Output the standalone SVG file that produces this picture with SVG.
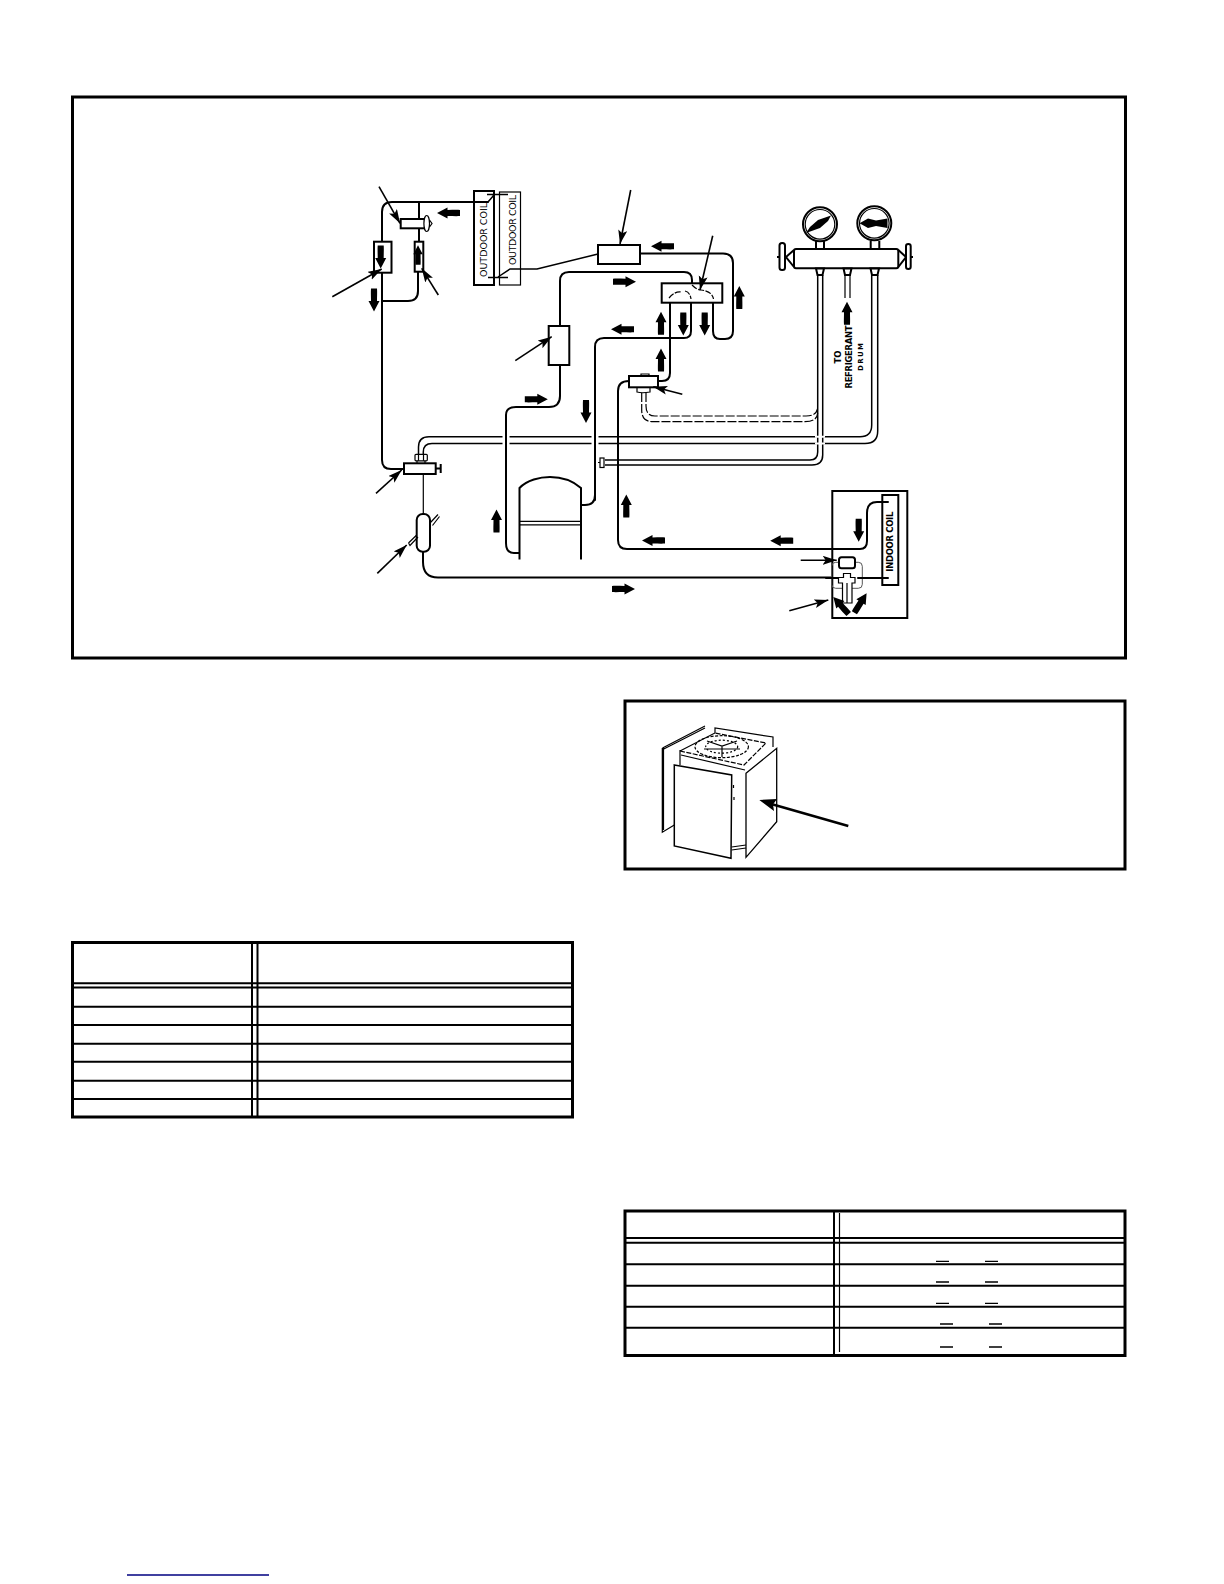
<svg xmlns="http://www.w3.org/2000/svg" xmlns:xlink="http://www.w3.org/1999/xlink" width="1224" height="1584" viewBox="0 0 1224 1584">
<style>
.frame{fill:none;stroke:#000;stroke-width:3}
.b{fill:none;stroke:#000;stroke-width:2}
.p{fill:none;stroke:#000;stroke-width:2;stroke-linecap:round}
.t{fill:none;stroke:#000;stroke-width:1.2}
.tb{fill:none;stroke:#000;stroke-width:1.5}
.w{fill:#fff;stroke:#000;stroke-width:2}
.wt{fill:#fff;stroke:#000;stroke-width:1.2}
.d{fill:none;stroke:#000;stroke-width:1.2;stroke-dasharray:9 2}
.gap{stroke:#fff;stroke-width:7;fill:none}
.l{stroke:#000;stroke-width:1.6;fill:none;marker-end:url(#head)}
.tl{fill:none;stroke:#000;stroke-width:2}
.rl{fill:none;stroke:#000;stroke-width:1.3}
.tx{font-family:"DejaVu Sans","Liberation Sans",sans-serif;fill:#000;text-anchor:middle}
</style>
<defs>
<marker id="head" markerUnits="userSpaceOnUse" markerWidth="16" markerHeight="10" refX="14" refY="4.5" orient="auto"><path d="M0,0 L14,4.5 L0,9 L3,4.5Z" fill="#000"/></marker>
<path id="arr" d="M-11.5,-3 C-8,-3.3 -4,-3 1,-3 L1,-5.5 L11.5,0 L1,5.5 L1,3 C-4,3 -8,3.3 -11.5,3Z" fill="#000"/>
</defs>
<g id="frames">
<rect class="frame" x="72.5" y="97" width="1053" height="561"/>
<rect class="frame" x="625" y="701" width="500" height="168"/>
</g>
<g id="connectors">
<path class="p" d="M488,202 H392 Q382,202 382,212 V242"/>
<path class="p" d="M419,202 V219 M419,228 V242 M418,272 V291 Q418,301 408,301 H382"/>
<path class="p" d="M382,273 V460 Q382,469 391,469 H404"/>
<path class="t" d="M423.3,474 V514"/>
<path class="p" d="M423,552 V562 Q423,577.5 438,577.5 H832"/>
<path class="p" d="M860,578 H888"/>
<path class="tb" d="M498,277 L510,269 H537 L598,254"/>
<path class="p" d="M640,253.5 H723 Q733,253.5 733,263 V331 Q733,339 725,339 H720 Q713,339 713,331 V303"/>
<path class="p" d="M560,326 V281 Q560,272 569,272 H684 Q692,272 692,280 V284"/>
<path class="p" d="M560,365 V396 Q560,407 549,407 H516 Q506,407 506,415 V543 Q506,553 514,553 H519"/>
<path class="p" d="M595,500 V347 Q595,338 604,338 H684 Q691,338 691,331 V303"/>
<path class="p" d="M595,495 Q595,505 585,505 H581"/>
<path class="p" d="M670,303 V373 Q670,381 662,381 H658"/>
<path class="p" d="M629,381 Q618,381 618,391 V540 Q618,549 627,549 H860 Q867,549 867,541 V513 Q867,502 877,502 H888"/>
<path class="tb" d="M418.5,454 V447 Q418.5,436.7 429,436.7 H860 Q871.7,436.7 871.7,425 V275"/>
<path class="tb" d="M423.3,454 V452 Q423.3,443.5 432,443.5 H865 Q877.7,443.5 877.7,431 V275"/>
<path class="gap" d="M506,431 V449 M595,431 V449 M820,431 V449"/>
<path class="p" d="M506,425 V455 M595,425 V455"/>
<path class="tb" d="M605,460 H810 Q817.7,460 817.7,452 V275 M605,465 H812 Q822.7,465 822.7,455 V275"/>
<path class="gap" d="M815,436.7 H825 M815,443.5 H825" style="stroke-width:2"/>
<path class="d" d="M641.7,393 V410 Q641.7,421.7 653,421.7 H805 Q817,421.7 817.7,413"/>
<path class="d" d="M646,393 V406 Q646,416 655,416 H806 Q816,416 817.5,409"/>
</g>
<g id="outdoor-coil-1"><rect class="b" x="474" y="191" width="20" height="94"/><text class="tx" font-size="9.5" transform="translate(486.8,240) rotate(-90)" textLength="74">OUTDOOR COIL</text></g>
<g id="outdoor-coil-2"><rect class="t" x="499.5" y="192" width="21" height="93"/><text class="tx" font-size="9.5" transform="translate(516.2,230) rotate(-90)" textLength="70">OUTDOOR COIL</text></g>
<g id="coil-stubs"><path class="tb" d="M488,202 L494,195 M487,194.5 H508 M488,277.5 H508"/></g>
<g id="reversing-rect"><rect class="w" x="598" y="245" width="42" height="19"/></g>
<g id="left-filter"><rect class="w" x="374" y="241.7" width="17.5" height="31"/></g>
<g id="side-filter"><rect class="w" x="414.7" y="241.7" width="8.6" height="30"/></g>
<g id="top-valve"><rect class="w" x="400.7" y="219" width="25" height="9.3"/><ellipse class="wt" cx="426.7" cy="223.5" rx="2.8" ry="8"/><path class="t" d="M429.5,220 L432,223.5 L429.5,227"/></g>
<g id="muffler"><rect class="w" x="548.7" y="326" width="20.6" height="39"/></g>
<g id="four-way-valve"><rect class="w" x="661.7" y="283.3" width="60.6" height="19.4"/><path class="t" d="M669,298 Q675,291 681,292 M685,291 Q690,292 691,299 M692,285 Q697,290 701,290 Q712,291 713.5,299" stroke-dasharray="6 1.5"/></g>
<g id="pressure-valve"><rect class="w" x="629" y="376" width="29" height="11.3"/><path class="t" d="M641,376 V374 H649 V376 M637,387.3 V392 Q642,393.5 650,392 V387.3"/></g>
<g id="service-valve"><rect class="w" x="404" y="463.3" width="31.7" height="10.7"/><path class="b" d="M435.7,468.5 H440.7 M440.7,464 V473"/><rect class="wt" x="415" y="454.3" width="12.3" height="6.5" rx="1"/><path class="t" d="M418.5,454.3 V460.8 M423.5,454.3 V460.8 M417,460.8 V463.3 M425,460.8 V463.3"/></g>
<g id="small-valve"><rect class="wt" x="600" y="458" width="4" height="9.5"/><path class="t" d="M598,462.5 H600"/></g>
<g id="accumulator"><path class="t" d="M430,523 L438,514.5 M432.5,525.5 L439.5,516.5 M416.7,535 L408.5,543 M418,537 L410,545.5 L408.5,543"/><rect class="b" x="416.7" y="514" width="13.3" height="37.7" rx="6"/></g>
<g id="compressor"><path class="b" d="M519.5,559.5 V488 C527,480 540,477 550,477 C562,477 573,481 581,488 V559.5"/><path class="t" d="M519.5,521.3 H581 M519.5,524.8 H581"/></g>
<g id="manifold">
<circle class="b" cx="820" cy="224.3" r="17"/><circle class="t" cx="820" cy="224.3" r="14.8"/>
<path d="M806,233 L810,227 L818,220 L831,215.5 L828,221 L820,228 Z" fill="#000"/>
<circle class="b" cx="874.3" cy="223.3" r="17"/><circle class="t" cx="874.3" cy="223.3" r="14.8"/>
<path d="M859.5,223.3 L868,218.5 L876,220.5 L887.5,218.5 V228 L876,226 L868,228 Z" fill="#000"/>
<path class="b" d="M816,241 V249 M824,241 V249 M870.7,241 V249 M879.3,241 V249"/>
<rect class="b" x="794" y="249" width="104.3" height="19.3" rx="2"/>
<path class="b" d="M794,250 L786,257 L794,267 M898.3,250 L906,257 L898.3,267 M777,257 H780 M911,257 H913"/>
<rect class="w" x="779.5" y="243" width="5.5" height="27" rx="2.5"/><rect class="w" x="906" y="244" width="4.7" height="25" rx="2.3"/>
<path class="w" d="M816,268.5 H824 L822.5,275 H817.5Z M843.5,268.5 H851.5 L850,275 H845Z M870.5,268.5 H879 L877.5,275 H872Z"/>
<path class="t" d="M845,275 V298 M850,275 V298"/>
<text class="tx" font-size="8.5" font-weight="bold" transform="translate(840.6,357) rotate(-90)">TO</text>
<text class="tx" font-size="8.5" font-weight="bold" transform="translate(852,357) rotate(-90)" textLength="63">REFRIGERANT</text>
<text class="tx" font-size="7" font-weight="bold" transform="translate(863,357) rotate(-90)" textLength="28">DRUM</text>
</g>
<g id="indoor-unit">
<rect class="b" x="832.3" y="491" width="75" height="127"/>
<rect class="b" x="882.3" y="495" width="16" height="90"/>
<text class="tx" font-size="8.5" font-weight="bold" transform="translate(893.4,541.7) rotate(-90)" textLength="60">INDOOR COIL</text>
<rect x="831.7" y="562.3" width="30.6" height="26" rx="4" fill="none" stroke="#555" stroke-width="1"/>
<path class="p" d="M826,578 H840 M858,578 H868"/>
<rect class="b" x="839" y="557.3" width="16" height="11" rx="2.5" style="fill:#fff"/>
<path class="wt" d="M843.5,573.5 H850.5 V577.5 H855 V583 H852 V603 H842.5 V583 H838.5 V577.5 H843.5Z M847,583 V603"/>
</g>
<g id="leaders">
<path class="l" d="M379,186.7 L400,223.3"/>
<path class="l" d="M332.3,296.7 L381.7,269"/>
<path class="l" d="M438.3,295 L421.7,268.3"/>
<path class="l" d="M515.3,360.7 L551.7,336.7"/>
<path class="l" d="M630.7,190 L620,244"/>
<path class="l" d="M712.7,235.7 L700,290"/>
<path class="l" d="M682.3,394.3 L653.3,386.7"/>
<path class="l" d="M376,493.3 L401.7,470"/>
<path class="l" d="M377.3,573.3 L406.7,545"/>
<path class="l" d="M800.7,560.3 H836.7"/>
<path class="l" d="M789.3,610.7 L828.3,600"/>
</g>
<g id="flow-arrows">
<use xlink:href="#arr" href="#arr" transform="translate(380.7,257) rotate(90)"/>
<use xlink:href="#arr" href="#arr" transform="translate(374,300) rotate(90)"/>
<use xlink:href="#arr" href="#arr" transform="translate(418,255) rotate(-90) scale(.85)"/>
<use xlink:href="#arr" href="#arr" transform="translate(448.5,213) rotate(180)"/>
<use xlink:href="#arr" href="#arr" transform="translate(662.5,246.3) rotate(180)"/>
<use xlink:href="#arr" href="#arr" transform="translate(624.5,281.7)"/>
<use xlink:href="#arr" href="#arr" transform="translate(739.3,297.5) rotate(-90)"/>
<use xlink:href="#arr" href="#arr" transform="translate(622.5,329.3) rotate(180)"/>
<use xlink:href="#arr" href="#arr" transform="translate(661,323.3) rotate(-90)"/>
<use xlink:href="#arr" href="#arr" transform="translate(661,360) rotate(-90)"/>
<use xlink:href="#arr" href="#arr" transform="translate(683.3,324) rotate(90)"/>
<use xlink:href="#arr" href="#arr" transform="translate(704.7,324) rotate(90)"/>
<use xlink:href="#arr" href="#arr" transform="translate(536.3,399.3)"/>
<use xlink:href="#arr" href="#arr" transform="translate(586,411.5) rotate(90)"/>
<use xlink:href="#arr" href="#arr" transform="translate(847,313.3) rotate(-90)"/>
<use xlink:href="#arr" href="#arr" transform="translate(496.5,521) rotate(-90)"/>
<use xlink:href="#arr" href="#arr" transform="translate(626.3,506) rotate(-90)"/>
<use xlink:href="#arr" href="#arr" transform="translate(653.5,540.5) rotate(180)"/>
<use xlink:href="#arr" href="#arr" transform="translate(781.7,540.7) rotate(180)"/>
<use xlink:href="#arr" href="#arr" transform="translate(858.7,530.3) rotate(90)"/>
<use xlink:href="#arr" href="#arr" transform="translate(623.5,589)"/>
<use xlink:href="#arr" href="#arr" transform="translate(841,605.5) rotate(-132)"/>
<use xlink:href="#arr" href="#arr" transform="translate(860.5,603) rotate(-58)"/>
</g>
<g id="outdoor-unit">
<path class="tb" d="M674.3,765 L731.7,775 L731,858.3 L674.3,846 Z"/>
<path class="t" d="M746,773.3 L776.7,748.3 V821.7 L746,857.3 Z" style="stroke-width:1.3"/>
<path class="t" d="M662.5,748 L705,726 M662.8,749.5 L705,728 M662.3,748 V832.3 L674.3,825 M663.5,748 V830"/>
<path class="t" d="M680,750 V765 M680,751 L715,733 V728 L773,737 V747"/>
<path class="t" d="M680,751 L744,765 L766,743 L715,733" stroke-dasharray="5 1.5"/>
<path class="t" d="M681,755 L745,770"/>
<ellipse class="t" cx="721.7" cy="746.7" rx="26.7" ry="11" stroke-dasharray="3 1.5"/>
<ellipse class="t" cx="721.7" cy="746.7" rx="16" ry="6.5" stroke-dasharray="2 2"/>
<path class="t" d="M707,741 L722,746 L737,741 M722,746 V757 M704,749 H740"/>
<path class="t" d="M731.7,847 L746,845 M731.7,850 L746,848"/>
<path class="t" d="M733.5,785 V788 M734,797 V800"/>
<path d="M848.3,826 L773,804.5" stroke="#000" stroke-width="2.5" fill="none"/>
<path d="M759.3,800 L777,799 L773,804.5 L774,811Z" fill="#000"/>
</g>
<g id="table-left">
<rect class="tl" x="72.5" y="942.5" width="500" height="174.5" style="stroke-width:3"/>
<path class="tl" d="M73,983.3 H572 M73,987.6 H572 M73,1006.7 H572 M73,1025 H572 M73,1043.7 H572 M73,1061.7 H572 M73,1080.7 H572 M73,1099 H572"/>
<path class="tl" d="M252,943 V1117"/><path class="t" d="M257.5,943 V1117" style="stroke-width:2"/>
</g>
<g id="table-right">
<rect class="tl" x="625" y="1211" width="500" height="144.5" style="stroke-width:3"/>
<path class="tl" d="M625,1238 H1125 M625,1242.7 H1125 M625,1264.3 H1125 M625,1285.7 H1125 M625,1306.7 H1125 M625,1327.7 H1125"/>
<path class="tl" d="M834,1211 V1355"/><path class="t" d="M839.5,1213 V1352"/>
<path class="rl" d="M936,1261.3 H949 M985,1261.3 H998 M936,1282 H949 M985,1282 H998 M936,1303.3 H949 M985,1303.3 H998 M940,1324 H953 M989,1324 H1002 M940,1347 H953 M989,1347 H1002"/>
</g>
<path id="footer-rule" d="M127,1575 H269" stroke="#000080" stroke-width="1.3" fill="none"/>
</svg>
